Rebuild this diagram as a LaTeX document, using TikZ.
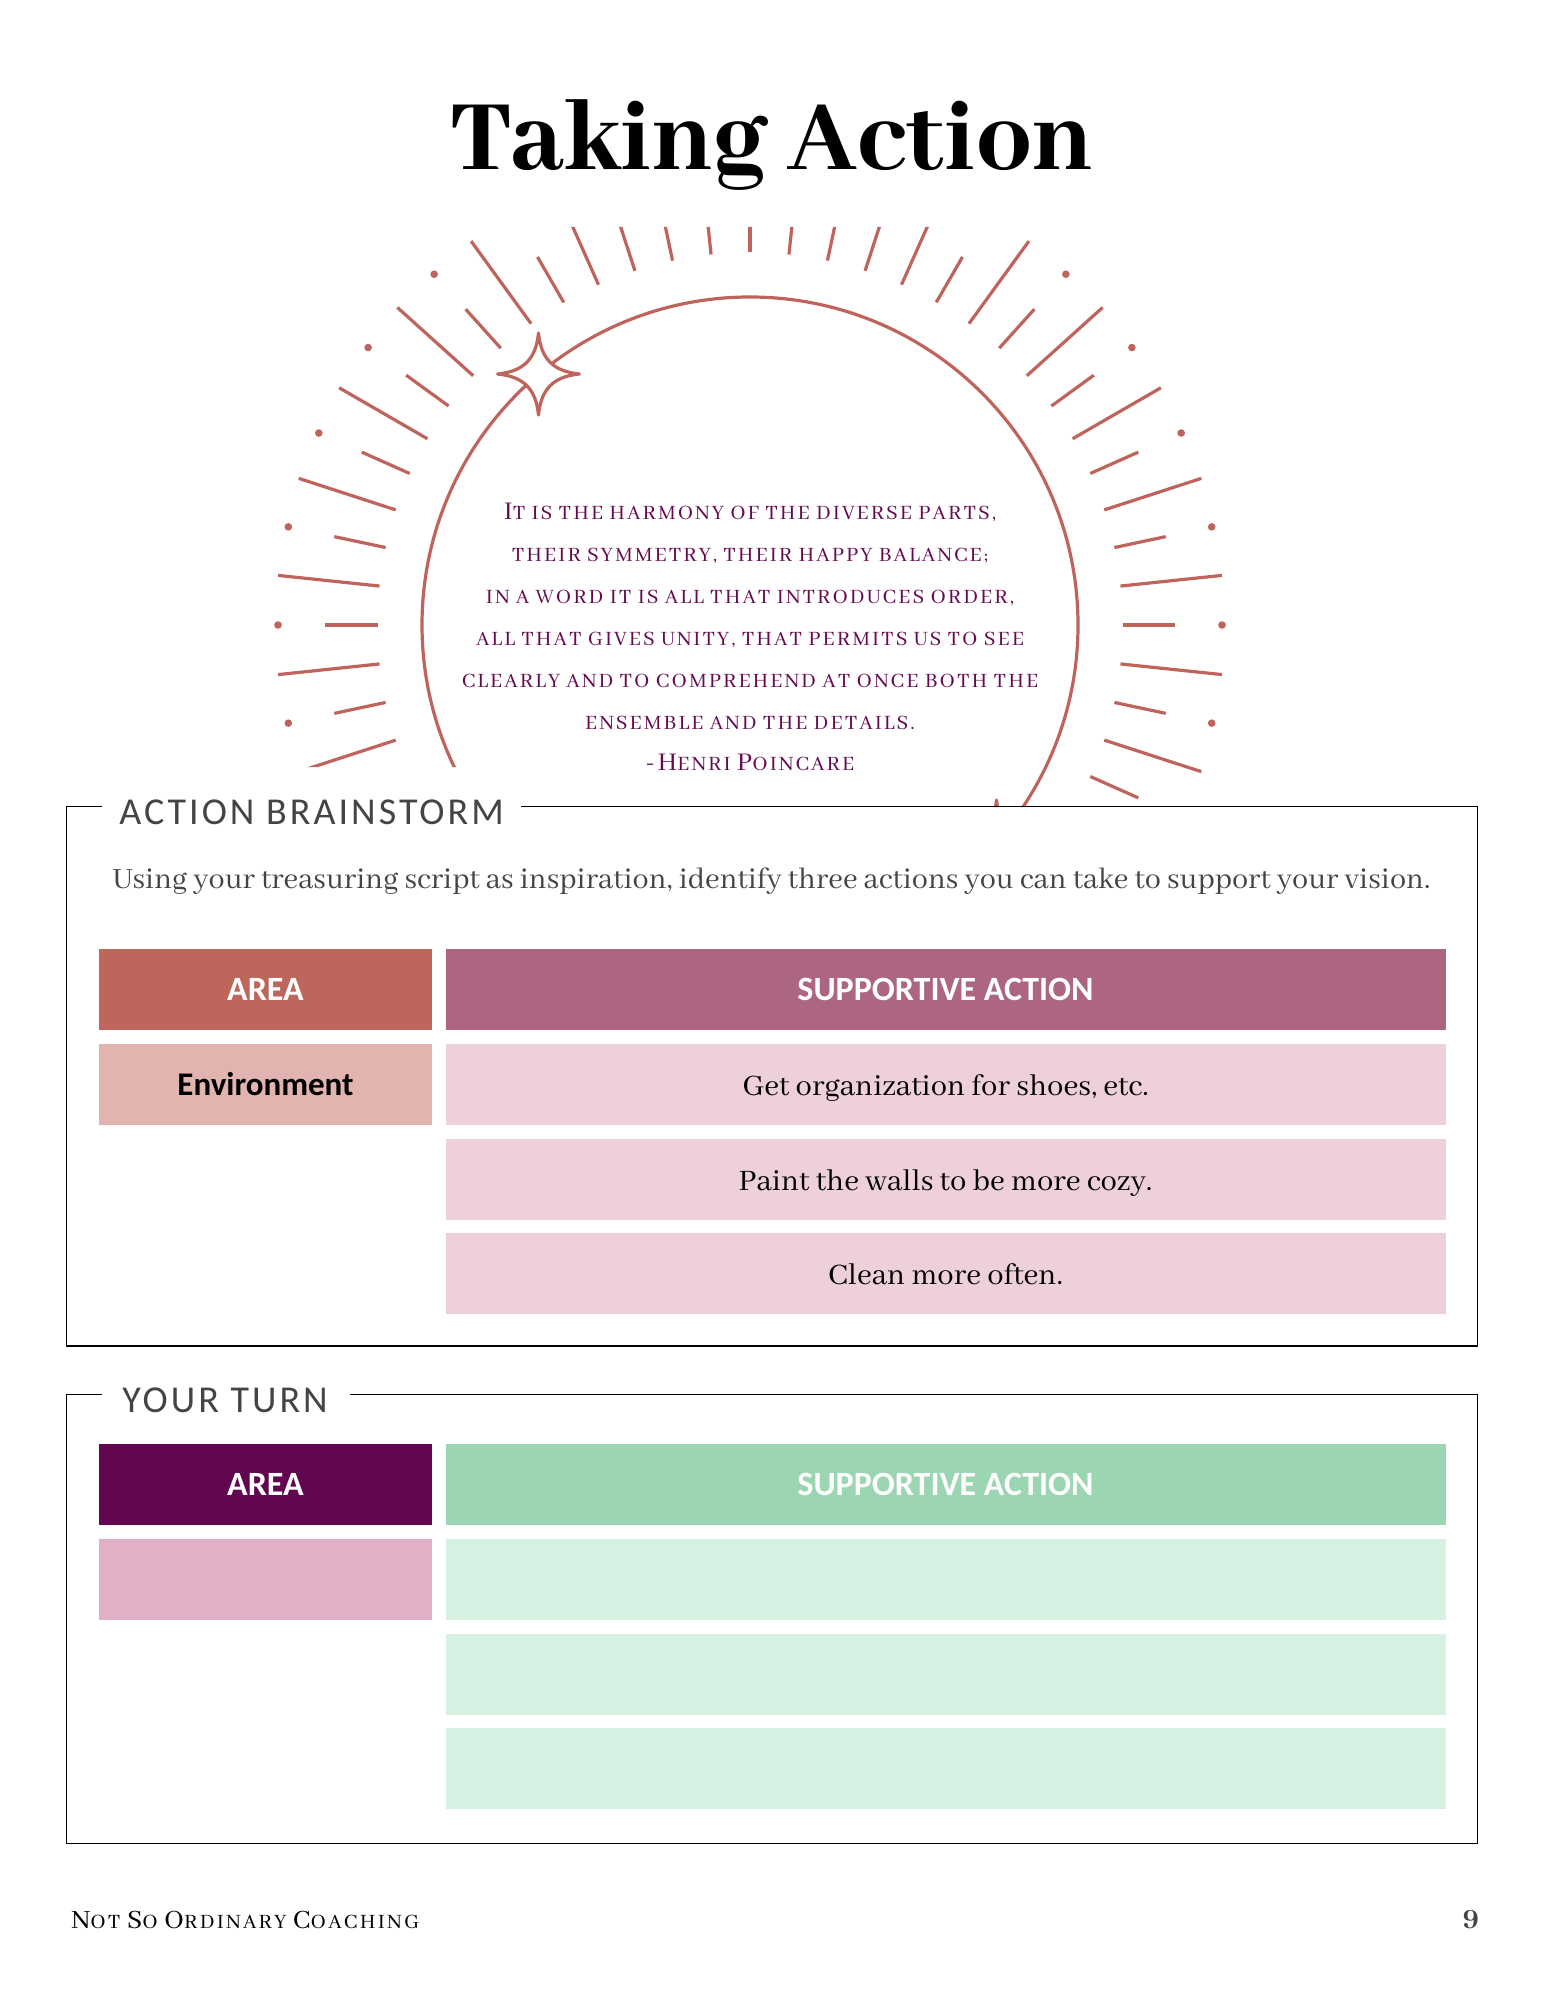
\documentclass[tikz,border=0pt]{standalone}
\usepackage{fontspec}
\setmainfont{Abhaya Libre}
\newfontfamily\titlefont{Abhaya Libre ExtraBold}
\newfontfamily\sansf{Carlito}
\newfontfamily\sansl[LetterSpace=8]{Carlito}
\newfontfamily\scf[LetterSpace=9]{Abhaya Libre}
\newfontfamily\scfoot[LetterSpace=10]{Abhaya Libre}
\definecolor{ray}{HTML}{BF645C}
\definecolor{hdA}{HTML}{BC665C}
\definecolor{hdB}{HTML}{AD6682}
\definecolor{ltA}{HTML}{E2B4AF}
\definecolor{ltB}{HTML}{EECFDC}
\definecolor{hdC}{HTML}{62074F}
\definecolor{hdD}{HTML}{9BD5B2}
\definecolor{ltC}{HTML}{E1AFC6}
\definecolor{ltD}{HTML}{D6F0E1}
\definecolor{quote}{HTML}{660A50}
\definecolor{grey}{HTML}{444444}
\newcommand\qs[1]{{\fontsize{11.2}{13}\selectfont\uppercase{#1}}}
\newcommand\qc[1]{{\fontsize{14}{13}\selectfont #1}}
\newcommand\fs[1]{{\fontsize{11.2}{13}\selectfont\uppercase{#1}}}
\newcommand\fc[1]{{\fontsize{14.5}{13}\selectfont #1}}
\newcommand\low[1]{\raisebox{-5.7pt}[0pt][0pt]{#1}}
\newcommand\starshape[2]{\draw[raystroke,fill=white,line join=round]
 (#1,#2-41) .. controls (#1+2.5,#2-15) and (#1+15,#2-2.5) .. (#1+41,#2)
 .. controls (#1+15,#2+2.5) and (#1+2.5,#2+15) .. (#1,#2+41)
 .. controls (#1-2.5,#2+15) and (#1-15,#2+2.5) .. (#1-41,#2)
 .. controls (#1-15,#2-2.5) and (#1-2.5,#2-15) .. cycle;}
\tikzset{
 x=0.5pt,y=-0.5pt,
 raystroke/.style={draw=ray,line width=1.6pt},
 frame/.style={draw=black,line width=0.9pt},
 areacell/.style={minimum width=166.5pt,minimum height=40.5pt,inner sep=0pt},
 actioncell/.style={minimum width=500pt,minimum height=40.5pt,inner sep=0pt},
 headtext/.style={font=\sansf\bfseries\fontsize{17}{20}\selectfont,text=white},
 areatext/.style={font=\sansf\bfseries\fontsize{16.5}{20}\selectfont,text=black},
 bodytext/.style={font=\fontsize{16.3}{20}\selectfont,text=black},
 quoteline/.style={text=quote,inner sep=0pt,font=\scf},
 boxtitle/.style={text=grey,inner sep=0pt,font=\sansl\fontsize{19}{22}\selectfont},
}
\begin{document}
\begin{tikzpicture}
\useasboundingbox (0,0) rectangle (1545,2000);
\begin{scope}
\clip (0,227) -- (1545,227) -- (1545,807) -- (700,807) -- (700,767) -- (0,767) -- cycle;
\begin{scope}[shift={(750,625)}]
\foreach \a in {6,18,...,354}{\draw[raystroke] (\a:372.5) -- (\a:474.5);}
\foreach \a in {0,12,...,348}{\draw[raystroke] (\a:372.5) -- (\a:425);
  \fill[ray] (\a:472) circle (1.9pt);}
\draw[raystroke] (0,0) circle (328);
\end{scope}
\starshape{538.5}{374}
\starshape{996.5}{841}
\end{scope}
\node[font=\titlefont\fontsize{55}{60}\selectfont,text=black,inner sep=0pt,anchor=base] (title) at (772,170) {Taking Action};
\node[quoteline,anchor=base] (q1) at (750,519) {\qc{I}\qs{t is the harmony of the diverse parts,}};
\node[quoteline,anchor=base] (q2) at (750,561) {\qs{their symmetry, their happy balance;}};
\node[quoteline,anchor=base] (q3) at (750,603) {\qs{in a word it is all that introduces order,}};
\node[quoteline,anchor=base] (q4) at (750,645) {\qs{all that gives unity, that permits us to see}};
\node[quoteline,anchor=base] (q5) at (750,687) {\qs{clearly and to comprehend at once both the}};
\node[quoteline,anchor=base] (q6) at (750,729) {\qs{ensemble and the details.}};
\node[quoteline,anchor=base] (q7) at (750,770) {\qc{-H}\qs{enri }\qc{P}\qs{oincare}};
\draw[frame] (102,806.5) -- (66.5,806.5) -- (66.5,1346) -- (1477.5,1346) -- (1477.5,806.5) -- (520.5,806.5);
\node[boxtitle,anchor=base west] (t1) at (119,824) {ACTION BRAINSTORM};
\node[text=grey,inner sep=0pt,anchor=base,font=\fontsize{16.1}{19}\selectfont] (intro) at (771.5,888) {Using your treasuring script as inspiration, identify three actions you can take to support your vision.};
\node[areacell,fill=hdA,headtext] (a1) at (265.5,989.5) {AREA};
\node[actioncell,fill=hdB,headtext] (b1) at (945.5,989.5) {SUPPORTIVE ACTION};
\node[areacell,fill=ltA,areatext] (a2) at (265.5,1084) {Environment};
\node[actioncell,fill=ltB,bodytext] (b2) at (945.5,1084) {\low{Get organization for shoes, etc.}};
\node[actioncell,fill=ltB,bodytext] (b3) at (945.5,1179) {\low{Paint the walls to be more cozy.}};
\node[actioncell,fill=ltB,bodytext] (b4) at (945.5,1273.5) {\low{Clean more often.}};
\draw[frame] (102,1394.5) -- (66.5,1394.5) -- (66.5,1843.5) -- (1477.5,1843.5) -- (1477.5,1394.5) -- (349.5,1394.5);
\node[boxtitle,anchor=base west] (t2) at (122,1412) {YOUR TURN};
\node[areacell,fill=hdC,headtext] (a3) at (265.5,1484.5) {AREA};
\node[actioncell,fill=hdD,headtext] (b5) at (945.5,1484.5) {SUPPORTIVE ACTION};
\node[areacell,fill=ltC] (a4) at (265.5,1579.5) {};
\node[actioncell,fill=ltD] (b6) at (945.5,1579.5) {};
\node[actioncell,fill=ltD] (b7) at (945.5,1674) {};
\node[actioncell,fill=ltD] (b8) at (945.5,1768.5) {};
\node[inner sep=0pt,anchor=base west,text=black,font=\scfoot] (foot) at (71,1928) {\fc{N}\fs{ot }\fc{S}\fs{o }\fc{O}\fs{rdinary }\fc{C}\fs{oaching}};
\node[inner sep=0pt,anchor=base,text=grey,font=\titlefont\fontsize{15}{16}\selectfont] (page) at (1471,1926) {9};
\end{tikzpicture}
\end{document}
